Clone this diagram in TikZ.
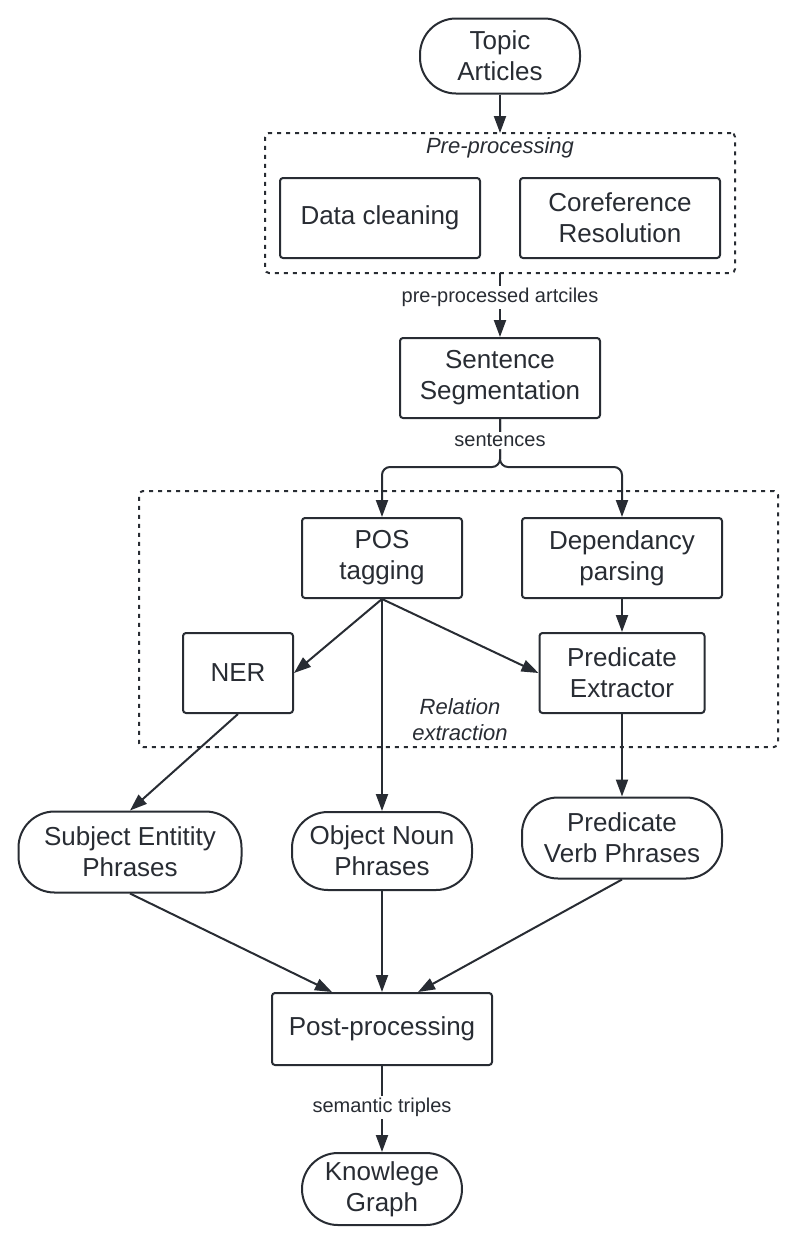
\documentclass[tikz,border=0pt]{standalone}
\usepackage{fontspec}
\setmainfont{Liberation Sans}
\usepackage{xcolor}
\usetikzlibrary{positioning,arrows.meta}
\definecolor{ink}{RGB}{40,44,51}

\begin{document}
\begin{tikzpicture}[x=1pt, y=-1pt, node distance=240pt, on grid,
    >={Triangle[length=17pt,width=12pt]},
    every node/.style={text=ink},
    proc/.style={draw=ink, line width=2pt, rounded corners=3pt, minimum width=200pt,
      minimum height=80pt, align=center, inner sep=2pt, font=\fontsize{26}{31}\selectfont},
    term/.style={proc, rounded corners=36pt},
    stage/.style={draw=ink, line width=2pt, dash pattern=on 4pt off 5pt, rounded corners=4pt,
      inner sep=0pt, outer sep=0pt},
    stagelbl/.style={font=\fontsize{22}{26}\selectfont\itshape, align=center},
    lbl/.style={fill=white, inner sep=2pt, font=\fontsize{20}{24}\selectfont},
    flow/.style={->, color=ink, line width=2pt}]
   \useasboundingbox (0,0) rectangle (795,1245);

   % dotted stages
   \node[stage, minimum width=470pt, minimum height=140pt] (pre) at (500,203) {};
   \node[stage, minimum width=639pt, minimum height=256pt] (rel) at (458.5,619) {};
   \node[stagelbl] (prelbl) at (500,148) {Pre-processing};
   \node[stagelbl] (rellbl) at (460,720) {Relation\\extraction};

   \node[term, minimum width=160pt, minimum height=75pt] (topic) at (500,56) {Topic\\Articles};
   \node[proc] (clean) at (380,218) {Data cleaning};
   \node[proc] (coref) [right=of clean] {Coreference\\Resolution};
   \node[proc] (seg) at (500,378) {Sentence\\Segmentation};
   \node[coordinate] (split) [below=89pt of seg] {};
   \node[proc, minimum width=160pt] (pos) at (382,558) {POS\\tagging};
   \node[proc] (dep) [right=of pos] {Dependancy\\parsing};
   \node[proc, minimum width=110pt] (ner) [below left=115pt and 144pt of pos] {NER};
   \node[proc, minimum width=165pt] (pred) [below=115pt of dep] {Predicate\\Extractor};
   \node[term, minimum width=223pt, minimum height=81pt] (subj) at (130,852) {Subject Entitity\\Phrases};
   \node[term, minimum width=180pt, minimum height=78pt] (obj) [below=293pt of pos] {Object Noun\\Phrases};
   \node[term, minimum width=200pt, minimum height=81pt] (verb) [below=280pt of dep] {Predicate\\Verb Phrases};
   \node[proc, minimum width=220pt, minimum height=72pt] (post) at (382,1029) {Post-processing};
   \node[term, minimum width=160pt, minimum height=72pt] (kg) [below=160pt of post] {Knowlege\\Graph};

   % sentences split
   \draw[flow, rounded corners=8pt] (seg) -- (split) -| (pos);
   \draw[flow, rounded corners=8pt] (seg) -- node[lbl, pos=0.45] {sentences} (split) -| (dep);

   \path[flow]
    (topic)     edge (pre)
    (pre)       edge node[lbl, pos=0.38] {pre-processed artciles} (seg)
    (pos.south) edge (ner.east)
                edge (pred.west)
                edge (obj)
    (dep)       edge (pred)
    (ner.south) edge (subj.north)
    (pred)      edge (verb)
    (subj.south) edge ([xshift=-50pt]post.north)
    (obj)       edge (post)
    (verb.south) edge ([xshift=36pt]post.north)
    (post)      edge node[lbl, pos=0.48] {semantic triples} (kg);
\end{tikzpicture}
\end{document}
